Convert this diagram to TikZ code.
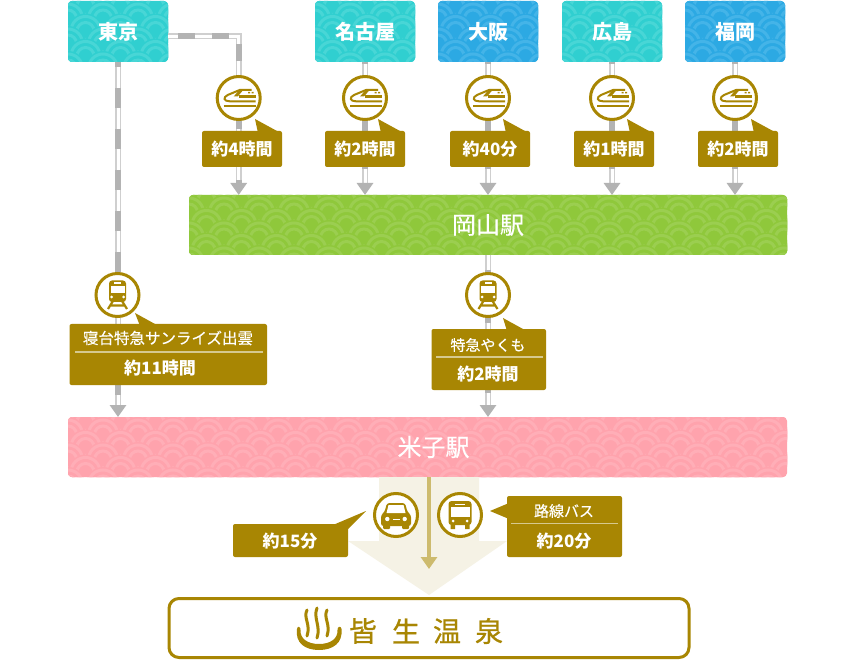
\documentclass[tikz,border=0pt]{standalone}
\usepackage{fontspec}
\setmainfont{Noto Sans CJK JP}
\newfontfamily\jpm[FakeBold=0.45]{Noto Sans CJK JP}
\newfontfamily\jph[FakeBold=0.8]{Noto Sans CJK JP}
\usetikzlibrary{arrows.meta,calc}
\definecolor{gold}{HTML}{A88603}
\definecolor{sep}{HTML}{D6C98F}
\definecolor{cream}{HTML}{F5F2E5}
\definecolor{shaft}{HTML}{CDBB6E}
\definecolor{railg}{HTML}{B3B3B3}
\definecolor{raill}{HTML}{CFCFCF}
\definecolor{tealb}{HTML}{30CFD0}\definecolor{teall}{HTML}{48D6D6}
\definecolor{blueb}{HTML}{2CA9E3}\definecolor{bluel}{HTML}{44B4E8}
\definecolor{greenb}{HTML}{8FC83B}\definecolor{greenl}{HTML}{9BCE50}
\definecolor{pinkb}{HTML}{FFA3AD}\definecolor{pinkl}{HTML}{FFAEB7}
% #1 x0, #2 y0, #3 x1, #4 y1, #5 base, #6 light, #7 last column
\newcommand{\wavepanel}[7]{%
  \begin{scope}
    \clip[rounded corners=4pt] (#1,#2) rectangle (#3,#4);
    \fill[#5] (#1,#2) rectangle (#3,#4);
    \foreach \rowi in {0,...,6}{%
      \foreach \coli in {0,...,#7}{%
        \pgfmathsetmacro{\wcx}{#1+\coli*35-17.5+mod(\rowi,2)*17.5}
        \pgfmathsetmacro{\wcy}{#2+\rowi*12.5+5}
        \fill[#5] (\wcx,\wcy) circle (17.5);
        \draw[#6,line width=3pt] (\wcx,\wcy) circle (14.5);
        \draw[#6,line width=3pt] (\wcx,\wcy) circle (8.5);
      }%
    }%
  \end{scope}%
}
\tikzset{
  x=1pt,y=-1pt,
  panel/.style n args={3}{rectangle,inner sep=0pt,outer sep=0pt,
    minimum width=#1,minimum height=#2,text=white,font=#3},
  timebox/.style={rectangle,rounded corners=2pt,fill=gold,inner sep=0pt,outer sep=0pt,text=white},
  timetext/.style={text=white,inner sep=0pt,font=\bfseries\fontsize{17}{17}\selectfont},
  nametext/.style={text=white,inner sep=0pt,font=\jpm\fontsize{15.5}{15.5}\selectfont},
  iconring/.style={circle,draw=gold,line width=3pt,fill=white,minimum size=43pt,inner sep=0pt,outer sep=0pt},
  railbase/.style={line width=6pt,draw=raill,shorten >=11pt},
  railcore/.style={line width=3pt,draw=white,shorten >=11pt},
  raildash/.style={line width=6pt,draw=railg,dash={#1},-{Triangle[length=12pt,width=16pt]}},
}
\newcommand{\shinkansen}[1]{\begin{scope}[shift={(#1)}]
  \draw[gold,line width=2pt] (-15,8.5) -- (17,8.5);
  \draw[gold,line width=2pt] (17,3.3) -- (-9,3.3) .. controls (-15,3.3) and (-16,-0.5) .. (-11,-3) -- (1,-8) -- (13,-8);
  \draw[gold,line width=2.2pt] (0,-1.5) -- (17,-1.5);
  \fill[gold] (1,-8.5) -- (5,-8.5) -- (-1,-1.5) -- (-5,-1.5) -- cycle;
  \fill[gold] (9.5,-6) rectangle (11.5,-4.5) (13,-6) rectangle (15,-4.5);
\end{scope}}
\newcommand{\trainicon}[1]{\begin{scope}[shift={(#1)}]
  \draw[gold,line width=2.2pt] (-4.5,6) -- (-9.5,14) (4.5,6) -- (9.5,14) (-7,10.5) -- (7,10.5);
  \fill[gold,rounded corners=3pt] (-8.5,-14.5) rectangle (8.5,7);
  \fill[white] (-7,-8.5) rectangle (7,-1.5);
  \fill[white] (-3.5,-12.5) rectangle (3.5,-11);
  \fill[white] (-6,2) circle (1.5) (6,2) circle (1.5);
\end{scope}}
\newcommand{\caricon}[1]{\begin{scope}[shift={(#1)}]
  \fill[gold,rounded corners=1pt] (-13,9) rectangle (-6,14) (6,9) rectangle (13,14);
  \fill[gold,rounded corners=2.5pt] (-15,11) -- (-15,0) -- (-11.5,-3) -- (-9,-12) -- (9,-12) -- (11.5,-3) -- (15,0) -- (15,11) -- cycle;
  \fill[white] (-7.5,-10) -- (7.5,-10) -- (9.5,-2) -- (-9.5,-2) -- cycle;
  \fill[white] (-8.7,4) circle (2.2) (8.7,4) circle (2.2);
  \fill[white] (-3.5,3.5) rectangle (3.5,5);
\end{scope}}
\newcommand{\busicon}[1]{\begin{scope}[shift={(#1)}]
  \fill[gold] (-9.5,9) rectangle (-5,14) (5,9) rectangle (9.5,14);
  \fill[gold,rounded corners=3pt] (-11.5,-14) rectangle (11.5,10);
  \fill[white] (-9.5,-8) rectangle (9.5,2);
  \fill[white] (-5,-11.5) rectangle (5,-10);
  \fill[white] (-7,6) circle (1.5) (7,6) circle (1.5);
\end{scope}}
\begin{document}
\begin{tikzpicture}
\path[use as bounding box,fill=white] (0,0) rectangle (854,660);
% patterned panels
\wavepanel{68}{1}{168}{62}{tealb}{teall}{4}
\wavepanel{315}{1}{415}{62}{tealb}{teall}{4}
\wavepanel{438}{1}{538}{62}{blueb}{bluel}{4}
\wavepanel{562}{1}{662}{62}{tealb}{teall}{4}
\wavepanel{685}{1}{785}{62}{blueb}{bluel}{4}
\wavepanel{189}{195}{787}{255}{greenb}{greenl}{18}
\wavepanel{68}{417}{787}{477}{pinkb}{pinkl}{21}
% boxes
\node[panel={100pt}{61pt}{\bfseries\fontsize{20}{20}\selectfont}] (tokyo) at (118,31.5) {東京};
\node[panel={100pt}{61pt}{\bfseries\fontsize{20}{20}\selectfont}] (nagoya) at (365,31.5) {名古屋};
\node[panel={100pt}{61pt}{\bfseries\fontsize{20}{20}\selectfont}] (osaka) at (488,31.5) {大阪};
\node[panel={100pt}{61pt}{\bfseries\fontsize{20}{20}\selectfont}] (hiroshima) at (612,31.5) {広島};
\node[panel={100pt}{61pt}{\bfseries\fontsize{20}{20}\selectfont}] (fukuoka) at (735,31.5) {福岡};
\node[panel={598pt}{60pt}{\jpm\fontsize{24}{24}\selectfont}] (okayama) at (488,225) {岡山駅};
\node[panel={707pt}{60pt}{\jpm\fontsize{24}{24}\selectfont}] (yonago) at (433.5,447) {米子駅};
% icon anchors
\coordinate (ring1) at (238.7,98);
\coordinate (ring2) at (365,98);
\coordinate (ring3) at (488,98);
\coordinate (ring4) at (612,98);
\coordinate (ring5) at (735,98);
\coordinate (ring6) at (117.5,295);
\coordinate (ring7) at (488,295);
\coordinate (elbow) at (238.7,36.5);
% rails
\foreach \la/\lb in {nagoya/ring2,osaka/ring3,hiroshima/ring4,fukuoka/ring5}{
  \draw[railbase] (\la.south) -- (okayama.north -| \lb);
  \draw[railcore] (\la.south) -- (okayama.north -| \lb);
  \draw[raildash={on 18pt off 17pt phase 16pt}] (\la.south) -- (okayama.north -| \lb);
}
\draw[railbase] (tokyo.east |- elbow) -- (elbow) -- (okayama.north -| elbow);
\draw[railcore] (tokyo.east |- elbow) -- (elbow) -- (okayama.north -| elbow);
\draw[raildash={on 17pt off 17pt phase 24pt}] (tokyo.east |- elbow) -- (elbow) -- (okayama.north -| elbow);
\draw[railbase] (tokyo.south) -- (yonago.north -| tokyo.south);
\draw[railcore] (tokyo.south) -- (yonago.north -| tokyo.south);
\draw[raildash={on 20pt off 21pt phase 15pt}] (tokyo.south) -- (yonago.north -| tokyo.south);
\draw[railbase] (okayama.south) -- (yonago.north -| okayama.south);
\draw[railcore] (okayama.south) -- (yonago.north -| okayama.south);
\draw[raildash={on 18pt off 17pt phase 20pt}] (okayama.south) -- (yonago.north -| okayama.south);
% rings
\foreach \n in {1,...,7}{\node[iconring] (icon\n) at (ring\n) {};}
\shinkansen{ring1}\shinkansen{ring2}\shinkansen{ring3}\shinkansen{ring4}\shinkansen{ring5}
\trainicon{ring6}\trainicon{ring7}
% time labels
\foreach \cx/\tx in {242/約4時間,365/約2時間,490/約40分,614/約1時間,738/約2時間}{
  \fill[gold] (\cx+13,119) -- (\cx+35,131) -- (\cx+16,133) -- cycle;
  \node[timebox,minimum width=80pt,minimum height=36pt] at (\cx,149) {};
  \node[timetext] at (\cx,149.5) {\tx};
}
% sunrise
\fill[gold] (135,313) -- (155,324) -- (140,326) -- cycle;
\node[timebox,minimum width=197.5pt,minimum height=61pt] (sunrise) at (168.25,354.5) {};
\draw[sep,line width=1.5pt] (75,352) -- (263,352);
\node[nametext] at (168,338) {寝台特急サンライズ出雲};
\node[timetext] at (160,368.5) {約11時間};
% yakumo
\fill[gold] (503,318) -- (523,329) -- (507,331) -- cycle;
\node[timebox,minimum width=114.5pt,minimum height=61pt] (yakumo) at (488.75,359.5) {};
\draw[sep,line width=1.5pt] (436,357) -- (543,357);
\node[nametext,font=\jpm\fontsize{15}{15}\selectfont] at (488,345) {特急やくも};
\node[timetext] at (488,374) {約2時間};
% lower part
\node[rectangle,inner sep=0pt,outer sep=0pt,minimum size=0pt] (drop) at (429,595) {};
\fill[cream] (379,477) -- (479,477) -- (479,541) -- (507,541) -- (drop.center) -- (348,541) -- (379,541) -- cycle;
\draw[shaft,line width=4pt,-{Triangle[length=12pt,width=16pt]}] (yonago.south -| drop) -- (429,569);
\node[iconring] (caring) at (396,515) {};
\node[iconring] (busring) at (460,515) {};
\caricon{caring}\busicon{busring}
\fill[gold] (366,511) -- (333,525) -- (348,529) -- cycle;
\node[timebox,minimum width=115pt,minimum height=33pt] (carlabel) at (290.5,540.5) {};
\node[timetext] at (290,541) {約15分};
\fill[gold] (490,511) -- (509,503) -- (509,519) -- cycle;
\node[timebox,minimum width=115pt,minimum height=61pt] (buslabel) at (564.5,526.5) {};
\draw[sep,line width=1.5pt] (511,523.5) -- (618,523.5);
\node[nametext,font=\jpm\fontsize{15}{15}\selectfont] at (564,511) {路線バス};
\node[timetext] at (564,541) {約20分};
% destination
\node[rectangle,rounded corners=10pt,draw=gold,line width=3pt,fill=white,minimum width=520pt,minimum height=59pt,inner sep=0pt] (kaike) at (429,628) {};
\fill[gold] (297,629) .. controls (295,643) and (305,650) .. (319,650) .. controls (333,650) and (343,643) .. (341.5,629) .. controls (341,625) and (337,627) .. (337.5,630) .. controls (338,639) and (330,644) .. (319,644) .. controls (308,644) and (300,639) .. (300.5,630) .. controls (301,627) and (297.5,625) .. (297,629) -- cycle;
\draw[gold,line width=3pt,line cap=round]
  (307,610) .. controls (303,618) and (311,624) .. (307,636)
  (317,608) .. controls (313,618) and (321,626) .. (317,638)
  (327,610) .. controls (323,618) and (331,624) .. (327,636);
\foreach \gx/\g in {363/皆,406/生,447/温,489/泉}{
  \node[text=gold,inner sep=0pt,font=\jph\fontsize{28}{28}\selectfont] at (\gx,631) {\g};
}
\end{tikzpicture}
\end{document}
